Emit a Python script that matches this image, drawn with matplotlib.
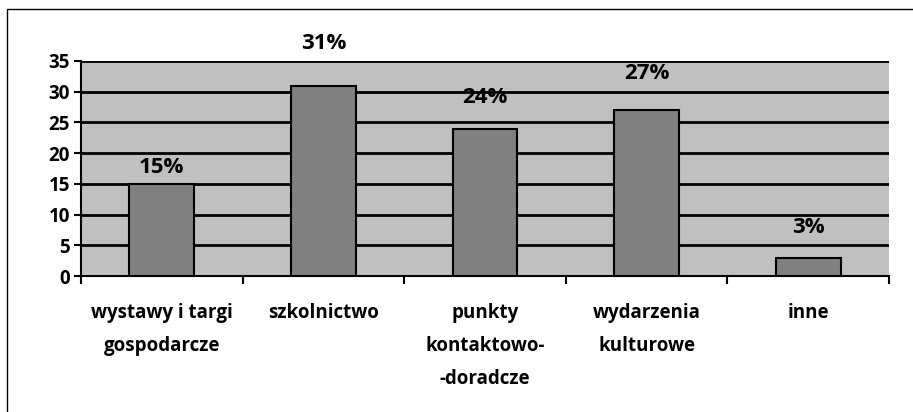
import matplotlib.pyplot as plt
from matplotlib.patches import Rectangle

# dane z wykresu
categories = ['wystawy i targi\ngospodarcze', 'szkolnictwo', 'punkty\nkontaktowo-\n-doradcze',
              'wydarzenia\nkulturowe', 'inne']
values = [15, 31, 24, 27, 3]
labels = ['15%', '31%', '24%', '27%', '3%']
yticks = [0, 5, 10, 15, 20, 25, 30, 35]

plt.rcParams['font.family'] = ['Open Sans', 'DejaVu Sans']
plt.rcParams['font.weight'] = 'bold'

W, H = 913, 412
fig = plt.figure(figsize=(W / 100, H / 100), dpi=100)

# ramka wokol wykresu (prawa i dolna krawedz poza obrazkiem)
fig.patches.append(Rectangle((7 / W, -0.05), 1.0, (H - 9) / H + 0.05, transform=fig.transFigure,
                             fill=False, edgecolor='black', linewidth=1.0))

ax = fig.add_axes([81 / W, (H - 276) / H, (889 - 81) / W, (276 - 61) / H])
ax.set_facecolor('#c0c0c0')

x = list(range(len(categories)))
ax.set_axisbelow(True)
ax.yaxis.grid(True, color='black', linewidth=2.0)
bars = ax.bar(x, values, width=0.4, color='#808080', edgecolor='black', linewidth=1.5, zorder=3)

# odstep etykiet nad slupkami (w pikselach, jak w oryginale)
label_gap = [16, 42, 31, 37, 30]
for b, lab, gap in zip(bars, labels, label_gap):
    ax.annotate(lab, (b.get_x() + b.get_width() / 2, b.get_height()), xytext=(0, gap),
                textcoords='offset pixels', ha='center', va='center',
                fontsize=16, fontweight='bold', annotation_clip=False)

ax.set_xlim(-0.5, len(categories) - 0.5)
ax.set_ylim(0, 35)
ax.set_yticks(yticks)
ax.tick_params(axis='y', labelsize=13.5, length=5, width=1.5, pad=3)

# kreski miedzy kategoriami
ax.set_xticks([i - 0.5 for i in range(len(categories) + 1)])
ax.set_xticklabels([])
ax.set_xticks(x, minor=True)
ax.set_xticklabels(categories, minor=True, fontsize=13.5, fontweight='bold', linespacing=1.85)
ax.tick_params(axis='x', which='major', length=6, width=1.5)
ax.tick_params(axis='x', which='minor', length=0, pad=19.5)

for s in ['top', 'right']:
    ax.spines[s].set_visible(False)
ax.spines['left'].set_linewidth(1.5)
ax.spines['bottom'].set_linewidth(1.5)

fig.savefig('out.png', dpi=100)
